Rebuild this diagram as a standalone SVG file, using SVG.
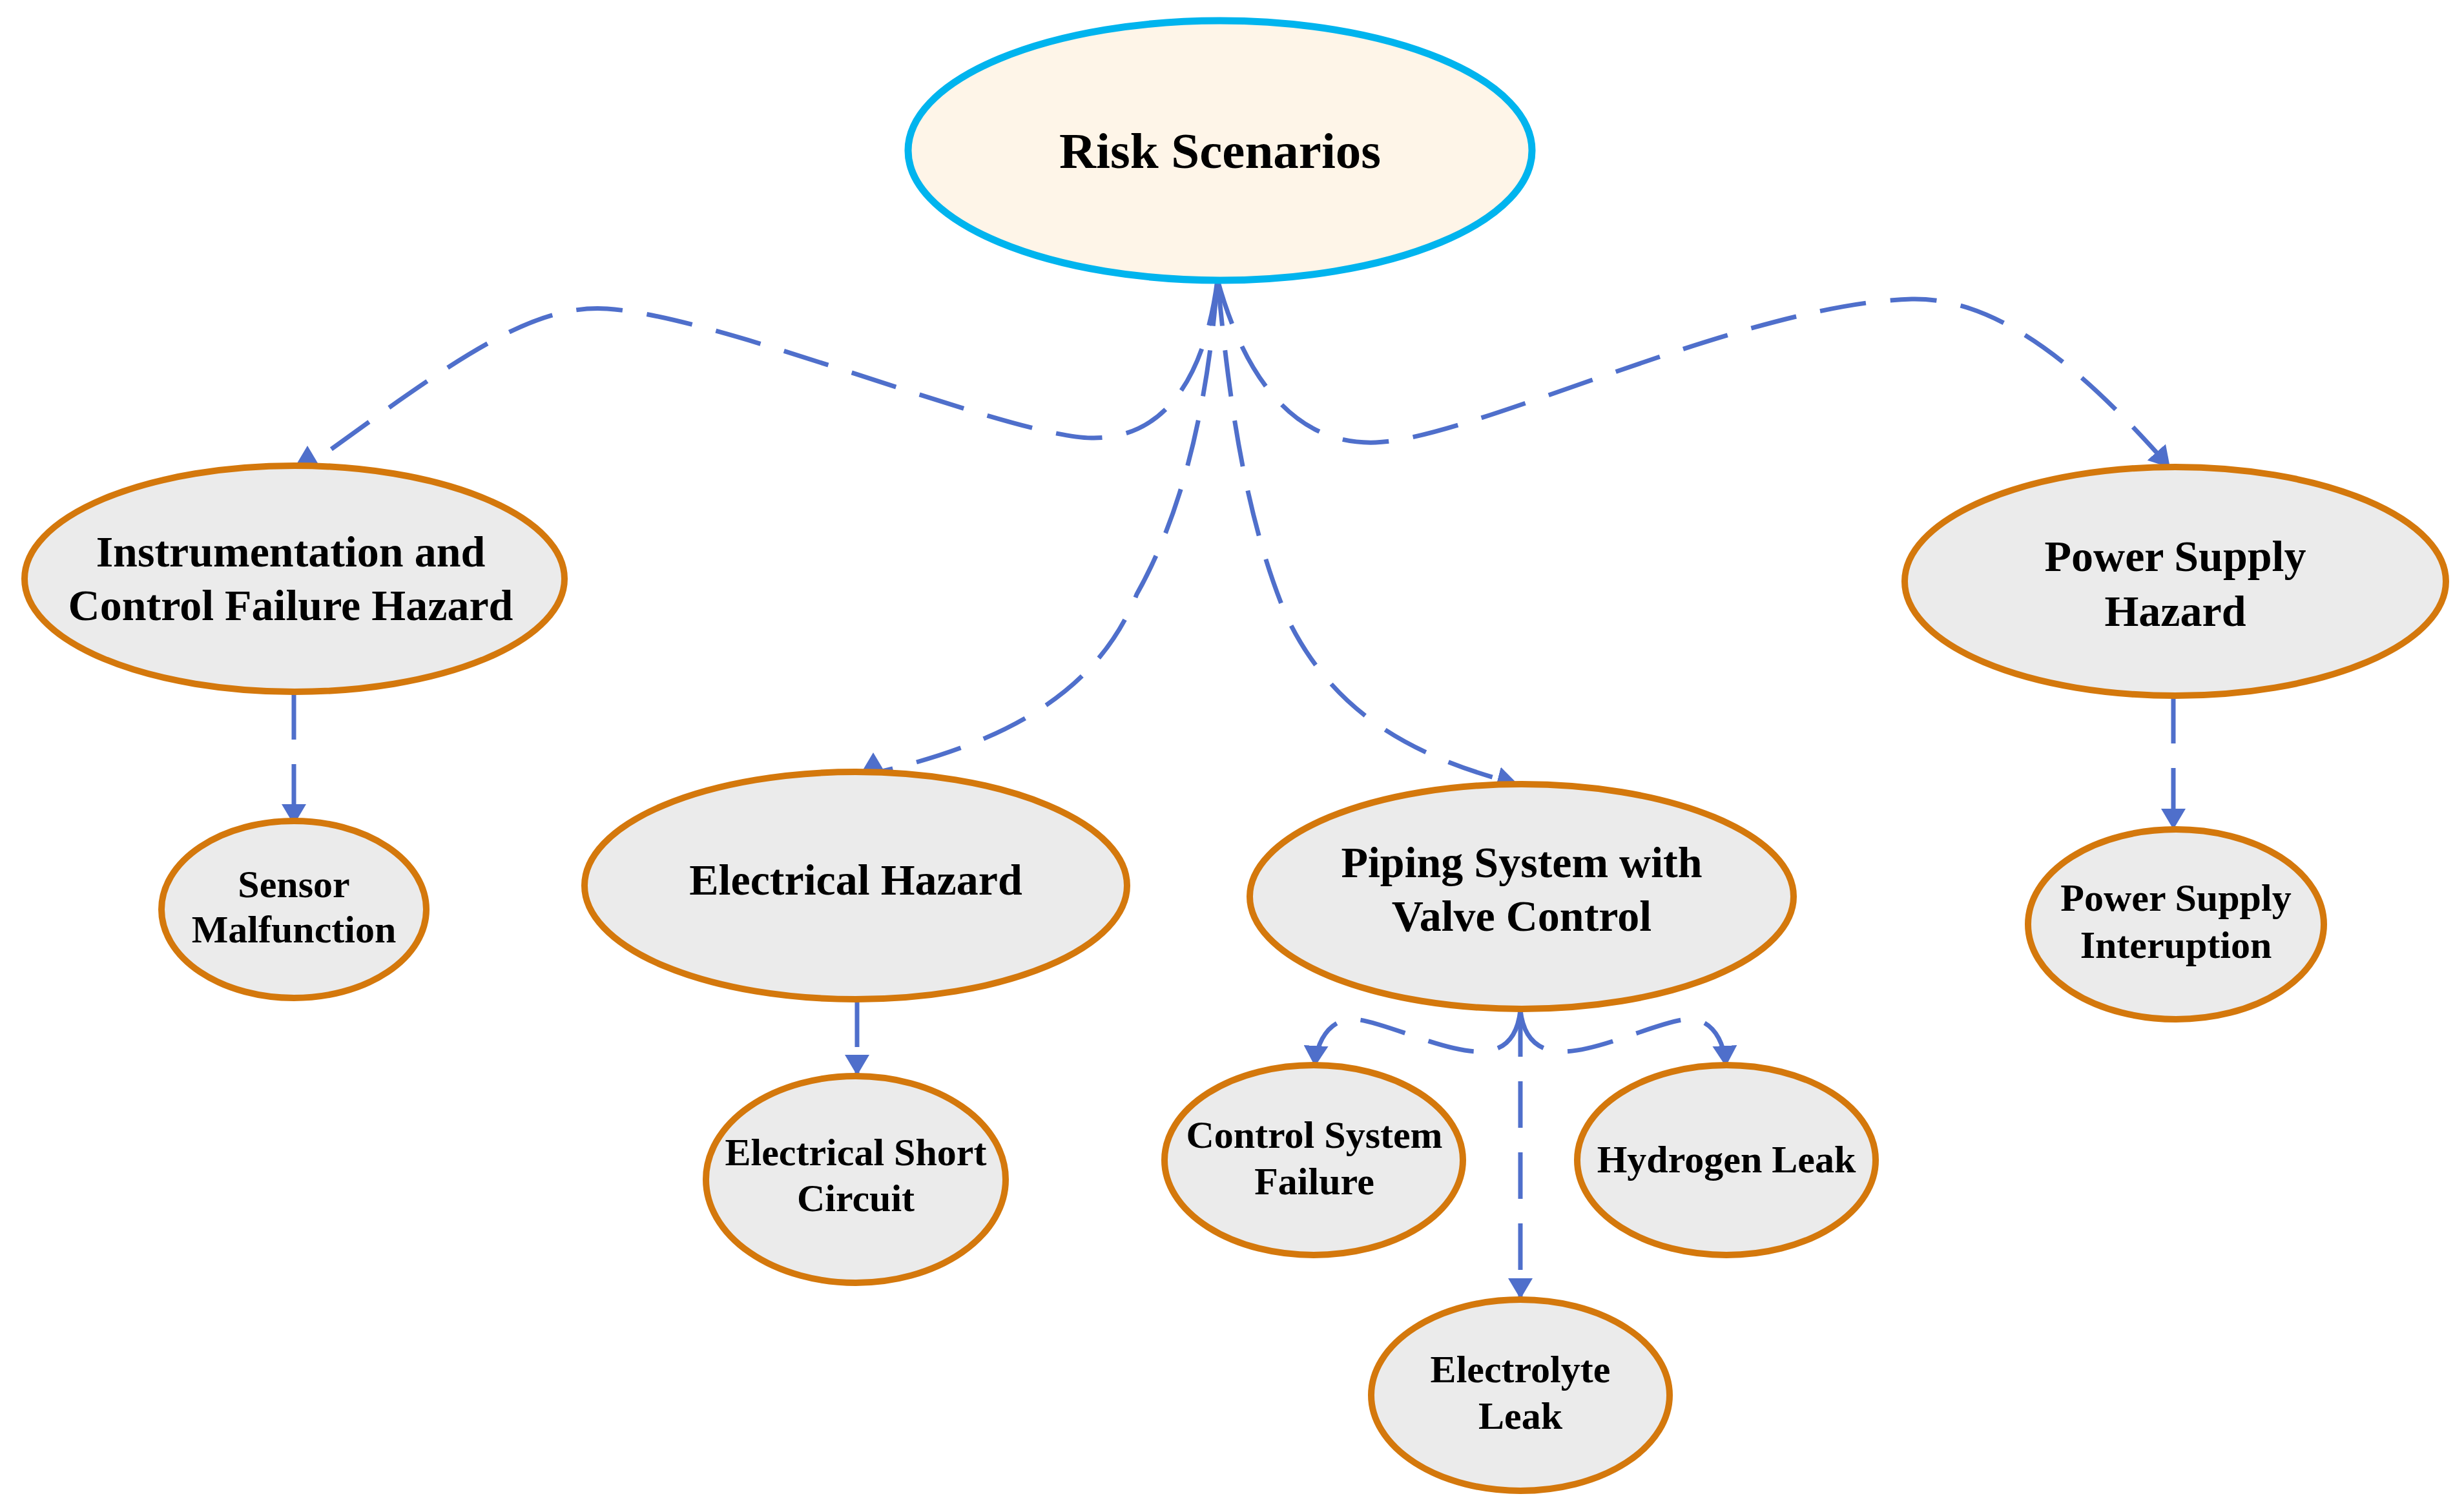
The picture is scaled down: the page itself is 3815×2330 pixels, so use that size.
<svg xmlns="http://www.w3.org/2000/svg" width="3815" height="2330" viewBox="0 0 3815 2330">
<style>
.root{fill:#FEF5E8;stroke:#00B4EE;stroke-width:11}
.node{fill:#EBEBEB;stroke:#D4780C;stroke-width:10}
.lbl{font-family:"Liberation Serif","Times New Roman",serif;font-weight:bold;fill:#000;text-anchor:middle}
.big{font-size:68px}
.small{font-size:60px}
.top{font-size:79px}
.edge{fill:none;stroke:#4F6FCB;stroke-width:7;stroke-dasharray:72 38}
.edge.end{marker-end:url(#arrow)}
.edge.up{marker-end:url(#arrowUp)}
</style>
<defs>
<marker id="arrow" viewBox="0 0 32 38" refX="32" refY="19" markerWidth="32" markerHeight="38" markerUnits="userSpaceOnUse" orient="auto">
<path d="M0,0 L32,19 L0,38 z" fill="#4F6FCB" stroke="none"/>
</marker>
<marker id="arrowUp" viewBox="0 0 32 38" refX="0" refY="19" markerWidth="32" markerHeight="38" markerUnits="userSpaceOnUse" orient="270">
<path d="M0,0 L32,19 L0,38 z" fill="#4F6FCB" stroke="none"/>
</marker>
</defs>
<rect x="0" y="0" width="3815" height="2330" fill="#FFFFFF"/>
<g id="connectors">
<path class="edge up" d="M1885,433 C1865,590 1800,680 1690,678 C1560,676 1120,490 940,478 C820,470 700,560 476,722"/>
<path class="edge up" d="M1885,433 C1875,560 1850,760 1760,920 C1700,1070 1560,1150 1352,1197"/>
<path class="edge end" d="M1885,433 C1900,580 1920,780 1990,950 C2060,1100 2180,1170 2350,1214"/>
<path class="edge end" d="M1885,433 C1920,560 1990,690 2130,685 C2280,680 2700,470 2960,463 C3110,460 3250,600 3360,724"/>
<path class="edge end" d="M455,1073 L455,1277"/>
<path class="edge end" d="M1327,1549 L1327,1665"/>
<path class="edge end" d="M3365,1079 L3365,1284"/>
<path class="edge end" d="M2354,1564 L2354,2011"/>
<path class="edge end" d="M2354,1564 C2350,1600 2335,1628 2290,1628 C2230,1628 2130,1575 2090,1578 C2060,1580 2038,1610 2036,1651"/>
<path class="edge end" d="M2354,1564 C2358,1600 2375,1628 2420,1628 C2480,1628 2580,1575 2620,1578 C2650,1580 2670,1610 2672,1651"/>
</g>
<g id="node-risk-scenarios">
<ellipse class="root" cx="1889" cy="233" rx="483" ry="201"/>
<text class="lbl top" x="1889" y="260">Risk Scenarios</text>
</g>
<g id="node-instrumentation">
<ellipse class="node" cx="456" cy="896" rx="418" ry="175"/>
<text class="lbl big" x="450" y="877">Instrumentation and</text>
<text class="lbl big" x="450" y="960">Control Failure Hazard</text>
</g>
<g id="node-electrical-hazard">
<ellipse class="node" cx="1325" cy="1371" rx="420" ry="176"/>
<text class="lbl big" x="1325" y="1385">Electrical Hazard</text>
</g>
<g id="node-piping">
<ellipse class="node" cx="2356" cy="1388" rx="421" ry="174"/>
<text class="lbl big" x="2356" y="1358">Piping System with</text>
<text class="lbl big" x="2356" y="1441">Valve Control</text>
</g>
<g id="node-power-supply-hazard">
<ellipse class="node" cx="3368" cy="900" rx="419" ry="177"/>
<text class="lbl big" x="3368" y="884">Power Supply</text>
<text class="lbl big" x="3368" y="969">Hazard</text>
</g>
<g id="node-sensor">
<ellipse class="node" cx="455" cy="1408" rx="205" ry="137"/>
<text class="lbl small" x="455" y="1389">Sensor</text>
<text class="lbl small" x="455" y="1459">Malfunction</text>
</g>
<g id="node-short-circuit">
<ellipse class="node" cx="1325" cy="1826" rx="232" ry="160"/>
<text class="lbl small" x="1325" y="1804">Electrical Short</text>
<text class="lbl small" x="1325" y="1875">Circuit</text>
</g>
<g id="node-control-system">
<ellipse class="node" cx="2034" cy="1796" rx="231" ry="147"/>
<text class="lbl small" x="2035" y="1777">Control System</text>
<text class="lbl small" x="2035" y="1849">Failure</text>
</g>
<g id="node-hydrogen-leak">
<ellipse class="node" cx="2673" cy="1796" rx="231" ry="147"/>
<text class="lbl small" x="2673" y="1815">Hydrogen Leak</text>
</g>
<g id="node-electrolyte-leak">
<ellipse class="node" cx="2354" cy="2160" rx="231" ry="148"/>
<text class="lbl small" x="2354" y="2140">Electrolyte</text>
<text class="lbl small" x="2354" y="2212">Leak</text>
</g>
<g id="node-power-interruption">
<ellipse class="node" cx="3369" cy="1431" rx="229" ry="147"/>
<text class="lbl small" x="3369" y="1410">Power Supply</text>
<text class="lbl small" x="3369" y="1483">Interuption</text>
</g>
</svg>
